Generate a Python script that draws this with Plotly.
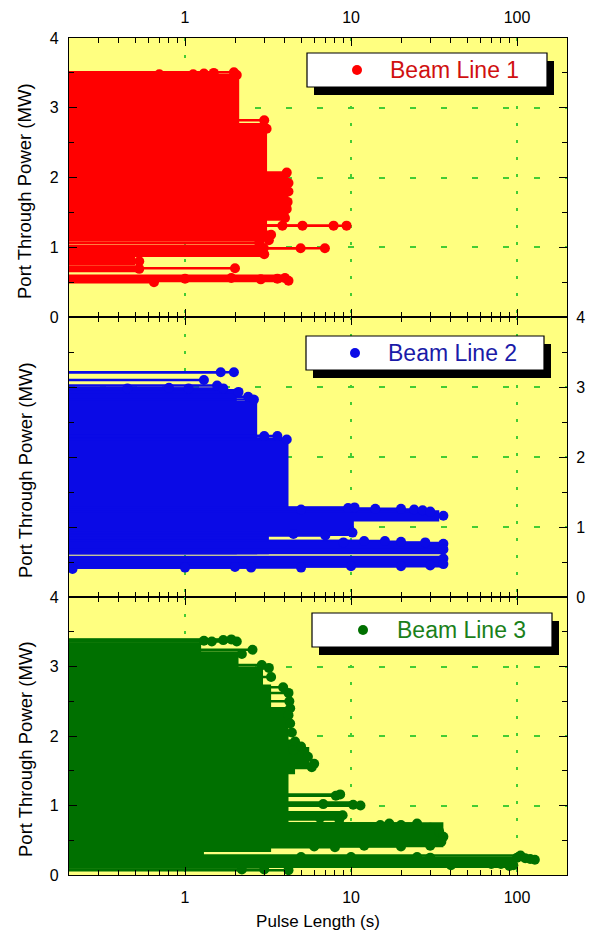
import math
import plotly.graph_objects as go

# ---------------- data ----------------
# Beam Line 1: dense power bands (lower MW, upper MW, longest pulse s)
b1_band_lo = [1.10, 1.10, 1.38, 1.09, 0.86, 0.74, 0.64, 0.50]
b1_band_hi = [3.46, 2.78, 2.08, 1.24, 1.04, 0.86, 0.74, 0.61]
b1_band_len = [2.12, 3.12, 4.20, 3.20, 3.00, 0.50, 0.55, 4.20]
# Beam Line 1: individual pulses (pulse length s, power MW)
b1_shot_len = [0.70, 1.12, 1.30, 1.49, 1.97, 2.05, 3.0, 3.1,
               4.1, 3.9, 4.2, 4.2, 4.15, 4.1, 4.0,
               3.86, 5.1, 7.85, 9.4, 3.3, 3.2, 2.8,
               2.98, 4.97, 6.96, 3.0, 2.9,
               0.53, 0.53, 2.0,
               0.65, 1.0, 1.9, 2.86, 3.6, 4.0, 4.2]
b1_shot_pow = [3.48, 3.48, 3.49, 3.50, 3.51, 3.47, 2.82, 2.70,
               2.07, 1.98, 1.92, 1.80, 1.65, 1.55, 1.42,
               1.31, 1.31, 1.31, 1.31, 1.18, 1.10, 1.065,
               0.99, 0.985, 0.985, 0.90, 0.95,
               0.80, 0.69, 0.70,
               0.50, 0.55, 0.56, 0.54, 0.55, 0.56, 0.52]

# Beam Line 2
b2_band_lo = [0.61, 0.61, 0.61, 0.87, 0.87, 1.08, 0.61, 0.42]
b2_band_hi = [2.97, 2.80, 2.28, 2.28, 1.27, 1.24, 0.79, 0.59]
b2_band_len = [2.05, 2.72, 3.20, 4.20, 10.4, 34.0, 36.0, 36.0]
b2_shot_len = [1.97, 1.64, 1.30, 1.56,
               0.45, 0.8, 1.05, 1.7, 2.1, 2.4, 2.6,
               3.0, 3.6, 4.1,
               9.6, 10.5, 14, 20, 24, 27, 30, 36, 5.0, 4.5, 7, 10.2,
               9, 12, 16, 20, 28, 36, 36, 36, 36, 30, 20, 10, 5, 2.5, 2.0, 0.21, 1.0]
b2_shot_pow = [3.21, 3.21, 3.10, 3.02,
               2.98, 2.99, 2.98, 2.98, 2.93, 2.86, 2.82,
               2.30, 2.30, 2.25,
               1.27, 1.28, 1.26, 1.26, 1.25, 1.24, 1.22, 1.16, 1.25, 0.90, 0.88, 0.92,
               0.78, 0.80, 0.80, 0.79, 0.78, 0.76, 0.68, 0.55, 0.47, 0.45, 0.44, 0.44, 0.42, 0.42, 0.43, 0.40, 0.42]

# Beam Line 3
b3_band_lo = [0.33, 0.33, 0.33, 0.33, 0.75, 1.45, 1.52, 0.98, 0.79, 0.40, 0.28, 0.10]
b3_band_hi = [3.34, 3.22, 3.00, 2.74, 2.40, 1.95, 1.84, 1.06, 0.92, 0.76, 0.33, 0.26]
b3_band_len = [1.25, 2.10, 2.95, 3.30, 4.20, 4.60, 5.60, 10.0, 8.8, 36.0, 1.30, 95.0]
b3_shot_len = [1.3, 1.45, 1.7, 1.9, 2.05, 2.2, 2.55, 2.9, 3.2,
               3.3, 3.9, 4.2, 4.25, 4.3, 4.2, 4.3, 4.4, 4.6, 4.5,
               5.0, 5.5, 6.0, 5.8,
               8.1, 8.6, 6.8, 10.3, 11.4,
               8.9, 8.5, 6.5,
               15, 17, 20, 25, 30, 34, 36, 35, 30, 20, 12, 8, 6,
               5, 100, 105, 112, 120, 128, 80, 90, 95, 70, 40, 30, 25, 10,
               2.2, 3.0, 4.2]
b3_shot_pow = [3.37, 3.36, 3.38, 3.39, 3.36, 3.18, 3.24, 3.02, 2.98,
               2.85, 2.70, 2.62, 2.50, 2.40, 2.30, 2.18, 2.05, 1.92, 1.80,
               1.85, 1.70, 1.60, 1.55,
               1.14, 1.16, 1.02, 1.01, 1.00,
               0.86, 0.80, 0.82,
               0.72, 0.74, 0.72, 0.74, 0.68, 0.62, 0.55, 0.48, 0.42, 0.41, 0.42, 0.40, 0.41,
               0.26, 0.25, 0.28, 0.24, 0.23, 0.22, 0.16, 0.13, 0.14, 0.16, 0.14, 0.25, 0.26, 0.26,
               0.08, 0.08, 0.07]

x_ticks = [1, 10, 100]
x_ticktext = ["1", "10", "100"]
x_minor = [0.2, 0.3, 0.4, 0.5, 0.6, 0.7, 0.8, 0.9, 2, 3, 4, 5, 6, 7, 8, 9,
           20, 30, 40, 50, 60, 70, 80, 90, 200]
y_ticks = [0, 1, 2, 3, 4]
y_minor = [0.5, 1.5, 2.5, 3.5]

names = ["Beam Line 1", "Beam Line 2", "Beam Line 3"]
colors = ["#ff0000", "#0a0ae6", "#007000"]
text_colors = ["#d01010", "#1a1aa8", "#1a801a"]

# ---------------- figure ----------------
W, H = 591, 932
L, R, T, B = 69, 24, 38, 57
PW, PH = W - L - R, H - T - B


def fx(px):
    return (px - L) / PW


def fy(py):
    return (H - B - py) / PH


LEFT_START = 0.1
fig = go.Figure()

series = [
    (b1_band_lo, b1_band_hi, b1_band_len, b1_shot_len, b1_shot_pow),
    (b2_band_lo, b2_band_hi, b2_band_len, b2_shot_len, b2_shot_pow),
    (b3_band_lo, b3_band_hi, b3_band_len, b3_shot_len, b3_shot_pow),
]

for i, (lo, hi, ln, sl, sp) in enumerate(series):
    xa = "x" if i == 0 else f"x{i+1}"
    ya = "y" if i == 0 else f"y{i+1}"
    c = colors[i]
    fig.add_trace(go.Bar(
        orientation="h", x=ln, y=[(a + b) / 2 for a, b in zip(lo, hi)],
        width=[b - a for a, b in zip(lo, hi)],
        marker=dict(color=c, line=dict(width=0)),
        xaxis=xa, yaxis=ya, showlegend=False, hoverinfo="skip"))
    lx, ly = [], []
    for a, p in zip(sl, sp):
        lx += [LEFT_START, a, None]
        ly += [p, p, None]
    fig.add_trace(go.Scatter(x=lx, y=ly, mode="lines",
                             line=dict(color=c, width=2.5),
                             xaxis=xa, yaxis=ya, showlegend=False, hoverinfo="skip"))
    fig.add_trace(go.Scatter(x=sl, y=sp, mode="markers",
                             marker=dict(color=c, size=10, line=dict(width=0)),
                             xaxis=xa, yaxis=ya, showlegend=False, name=names[i]))

GRID = "#44cc33"
font_family = "Liberation Sans, Arial, sans-serif"
xcommon = dict(type="log", range=[math.log10(0.2), math.log10(200)], automargin=False,
               tickvals=x_ticks, ticktext=x_ticktext, ticks="inside", ticklen=8,
               tickwidth=1.2, tickcolor="black", showline=True, linecolor="black",
               linewidth=1.2, mirror="ticks", showgrid=True, gridcolor=GRID,
               gridwidth=1.5, griddash="3px,14px", zeroline=False,
               minor=dict(tickvals=x_minor, ticks="inside", ticklen=5, tickcolor="black",
                          tickwidth=1.2, showgrid=False),
               tickfont=dict(size=16, color="black", family=font_family))
ycommon = dict(range=[0, 4], tickvals=y_ticks, ticks="inside", ticklen=8, tickwidth=1.2,
               automargin=False,
               tickcolor="black", showline=True, linecolor="black", linewidth=1.2,
               mirror="ticks", showgrid=True, gridcolor=GRID, gridwidth=1.5,
               griddash="6px,25px", zeroline=False,
               minor=dict(tickvals=y_minor, ticks="inside", ticklen=5, tickcolor="black",
                          tickwidth=1.2, showgrid=False),
               tickfont=dict(size=16, color="black", family=font_family))

d3 = fy(597)
d2 = fy(317)
fig.update_layout(
    width=W, height=H, margin=dict(l=L, r=R, t=T, b=B, pad=0, autoexpand=False),
    paper_bgcolor="white", plot_bgcolor="#ffff80",
    barmode="overlay", showlegend=False,
    font=dict(family=font_family, color="black"),
    xaxis=dict(xcommon, anchor="y", side="top", ticklabelstandoff=8),
    xaxis2=dict(xcommon, anchor="y2", matches="x", showticklabels=False),
    xaxis3=dict(xcommon, anchor="y3", matches="x", side="bottom", ticklabelstandoff=8,
                title=dict(text="Pulse Length (s)", font=dict(size=17), standoff=9)),
    yaxis=dict(ycommon, domain=[d2, 1], anchor="x", side="left", ticklabelstandoff=6),
    yaxis2=dict(ycommon, domain=[d3, d2], anchor="x2", side="right", ticklabelstandoff=5),
    yaxis3=dict(ycommon, domain=[0, d3], anchor="x3", side="left", ticklabelstandoff=6),
)

# y axis titles (panel 2 keeps its title on the left)
for yc in [191, 470, 749]:
    fig.add_annotation(text="Port Through Power (MW)", xref="paper", yref="paper",
                       x=fx(25), y=fy(yc), textangle=-90, showarrow=False,
                       xanchor="center", yanchor="middle",
                       font=dict(size=18.5, color="black", family=font_family))

# legend boxes with drop shadow
legend_boxes = [  # (x0, y0, x1, y1, dot_x, text_x) in pixels
    (307, 53, 547, 87, 357, 388),
    (306, 336, 544, 370, 355, 386),
    (312, 613, 552, 647, 363, 395),
]
for i, (x0, y0, x1, y1, dx, tx) in enumerate(legend_boxes):
    fig.add_shape(type="rect", xref="paper", yref="paper",
                  x0=fx(x0 + 7), x1=fx(x1 + 7), y0=fy(y0 + 8), y1=fy(y1 + 8),
                  fillcolor="black", line=dict(width=0), layer="above")
    fig.add_shape(type="rect", xref="paper", yref="paper",
                  x0=fx(x0), x1=fx(x1), y0=fy(y0), y1=fy(y1),
                  fillcolor="white", line=dict(color="black", width=1.2), layer="above")
    cy = (y0 + y1) / 2
    fig.add_shape(type="circle", xref="paper", yref="paper",
                  x0=fx(dx - 5), x1=fx(dx + 5), y0=fy(cy - 5), y1=fy(cy + 5),
                  fillcolor=colors[i], line=dict(width=0), layer="above")
    fig.add_annotation(text=names[i], xref="paper", yref="paper", x=fx(tx), y=fy(cy),
                       xanchor="left", yanchor="middle", showarrow=False,
                       font=dict(size=23, color=text_colors[i], family=font_family))

fig.write_html("out.html", config={"displayModeBar": False},
               post_script="document.body.style.margin='0';document.body.style.overflow='hidden';")
